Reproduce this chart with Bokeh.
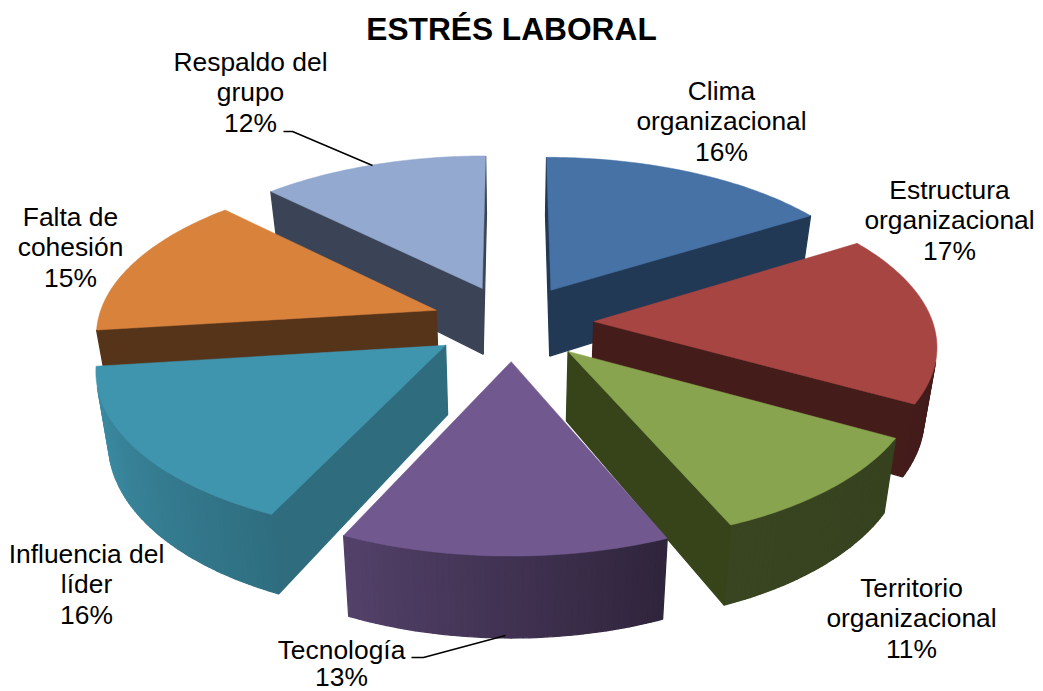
import numpy as np
from bokeh.plotting import figure
from bokeh.models import ColumnDataSource, Range1d
from bokeh.core.properties import value
from bokeh.embed import file_html
from bokeh.resources import INLINE

title = "ESTRÉS LABORAL"
categories = ["Clima organizacional", "Estructura organizacional", "Territorio organizacional",
              "Tecnología", "Influencia del líder", "Falta de cohesión", "Respaldo del grupo"]
shares = [16.1, 17.05, 10.45, 13.3, 16.1, 14.5, 12.5]
top_colors = ["#4672a6", "#a74543", "#88a44e", "#71588f", "#4095ae", "#d8823c", "#93a9cf"]
cut_colors = ["#223955", "#441c1a", "#374419", "#2c2340", "#2f6c7d", "#56341a", "#3b4457"]
label_lines = [["Clima", "organizacional", "16%"], ["Estructura", "organizacional", "17%"],
               ["Territorio", "organizacional", "11%"], ["Tecnología", "13%"],
               ["Influencia del", "líder", "16%"], ["Falta de", "cohesión", "15%"],
               ["Respaldo del", "grupo", "12%"]]
label_x = [721, 949, 911, 341, 86, 70, 250]
label_y = [90, 189, 587, 649, 553, 216, 61]
label_step = [30.6, 30.6, 30.6, 27, 30.6, 30.6, 30.6]

# 3-D view of the exploded pie
CX, CY, AX, CV, PERSP, EXPLODE = 512, 322, 339, 158, 0.13, 0.24
DEPTH, DEPTH_P, SHRINK = 67.8, 0.139, 0.97


def project(u, v, bottom=False):
    w = 1 + PERSP * v
    x, y = AX * u / w, CV * v / w
    if bottom:
        x = x * SHRINK
        y = y - DEPTH / (1 + DEPTH_P * v)
    return CX + x, CY - y


def hex_rgb(c):
    return [int(c[i:i + 2], 16) for i in (1, 3, 5)]


def shade(c, f):
    return "#%02x%02x%02x" % tuple(int(round(k * f)) for k in hex_rgb(c))


def wall_factor(deg):
    return float(np.interp(deg, [119, 158, 205, 263], [0.40, 0.42, 0.74, 0.97]))


def area(xs, ys):
    return 0.5 * sum(xs[i] * ys[(i + 1) % len(xs)] - xs[(i + 1) % len(xs)] * ys[i] for i in range(len(xs)))


totals = np.cumsum([0] + shares) / sum(shares) * 360.0
pieces = []
for i, share in enumerate(shares):
    a0, a1 = totals[i], totals[i + 1]
    mid = np.radians((a0 + a1) / 2)
    ou, ov = EXPLODE * np.sin(mid), EXPLODE * np.cos(mid)
    th = np.radians(np.linspace(a0, a1, int(share * 4) + 2))
    us = np.r_[ou, ou + np.sin(th)]
    vs = np.r_[ov, ov + np.cos(th)]
    tx, ty = project(us, vs)
    bx, by = project(us, vs, True)
    xs, ys, cs, ws = [], [], [], []
    n = len(us)
    faces = []
    for j in range(n):
        k = (j + 1) % n
        qx = [tx[j], tx[k], bx[k], bx[j]]
        qy = [ty[j], ty[k], by[k], by[j]]
        if area(qx, qy) >= 0:
            continue
        if j == 0 or j == n - 1:
            col = cut_colors[i]
        else:
            deg = np.degrees((th[j - 1] + th[j]) / 2)
            col = shade(top_colors[i], wall_factor(deg))
        faces.append((-min(vs[j], vs[k]), qx, qy, col))
    faces.sort(key=lambda f: f[0])
    for _, qx, qy, col in faces:
        xs.append(qx)
        ys.append(qy)
        cs.append(col)
        ws.append(1.3)
    xs.append(list(tx))
    ys.append(list(ty))
    cs.append(top_colors[i])
    ws.append(0.5)
    pieces.append((ov, xs, ys, cs, ws))

pieces.sort(key=lambda t: -t[0])
px, py, pc, pw = [], [], [], []
for _, xs, ys, cs, ws in pieces:
    px += xs
    py += ys
    pc += cs
    pw += ws

p = figure(width=1043, height=691, x_range=Range1d(0, 1043), y_range=Range1d(691, 0),
           output_backend="svg", toolbar_location=None, min_border=0,
           background_fill_color="white", outline_line_color=None)
p.axis.visible = False
p.grid.visible = False
p.patches("xs", "ys", source=ColumnDataSource(dict(xs=px, ys=py, c=pc, w=pw)),
          fill_color="c", line_color="c", line_width="w")

# leader lines
p.line([283, 292, 372], [131, 131, 165], line_color="black", line_width=1.5)
p.line([411, 423, 505], [657, 657, 635], line_color="black", line_width=1.5)

tx, ty, tt = [], [], []
for lines, x, y, step in zip(label_lines, label_x, label_y, label_step):
    for n, s in enumerate(lines):
        tx.append(x)
        ty.append(y + n * step)
        tt.append(s)
p.text(tx, ty, text=tt, text_font=value("Liberation Sans"), text_font_size="26.4px",
       text_align="center", text_baseline="middle", text_color="black")
p.text([511], [28], text=[title], text_font=value("Liberation Sans"), text_font_size="31.7px",
       text_font_style="bold", text_align="center", text_baseline="middle", text_color="black")

open("out.html", "w").write(file_html(p, INLINE))
